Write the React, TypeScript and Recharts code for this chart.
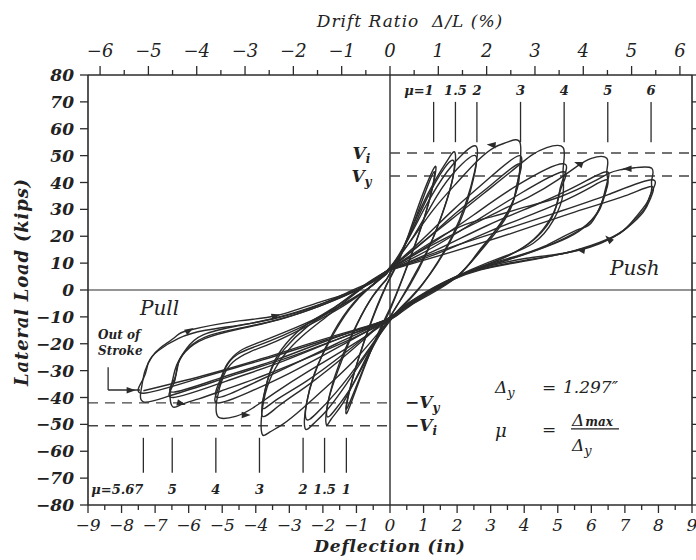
import React from "react";
import { LineChart, Line, XAxis, YAxis, ReferenceLine, ReferenceDot } from "recharts";

type Pt = [number, number];

// axis ticks (deflection in inches, drift ratio in %, load in kips)
const deflTicks = [-9, -8.5, -8, -7.5, -7, -6.5, -6, -5.5, -5, -4.5, -4, -3.5, -3, -2.5, -2, -1.5, -1, -0.5, 0,
  0.5, 1, 1.5, 2, 2.5, 3, 3.5, 4, 4.5, 5, 5.5, 6, 6.5, 7, 7.5, 8, 8.5, 9];
const driftTicks = [-6, -5.5, -5, -4.5, -4, -3.5, -3, -2.5, -2, -1.5, -1, -0.5, 0, 0.5, 1, 1.5, 2, 2.5, 3, 3.5, 4,
  4.5, 5, 5.5, 6];
const driftRange = [-6.25, 6.25];
const loadTicks = [-80, -70, -60, -50, -40, -30, -20, -10, 0, 10, 20, 30, 40, 50, 60, 70, 80];

// ductility markers (deflection at mu * 1.297")
const pushMarkX = [1.3, 1.95, 2.59, 3.89, 5.19, 6.49, 7.78];
const pushMarkLabels = ["μ=1", "1.5", "2", "3", "4", "5", "6"];
const pullMarkX = [-1.3, -1.95, -2.59, -3.89, -5.19, -6.49, -7.35];
const pullMarkLabels = ["1", "1.5", "2", "3", "4", "5", "μ=5.67"];

// Vi / Vy levels (kips)
const viPush = 51;
const vyPush = 42.4;
const vyPull = -42;
const viPull = -50.5;

// hysteresis cycles: [deflection in, load kips]
const mu1a: Pt[] = [[-0.1, 2], [0.3, 12], [0.7, 26], [1.05, 38], [1.35, 46], [1.3, 40], [1.05, 28], [0.6, 12], [0.1, -4],
  [-0.35, -16], [-0.8, -30], [-1.1, -40], [-1.3, -46], [-1.25, -40], [-0.95, -26], [-0.5, -10], [-0.1, 2]];
const mu1b: Pt[] = [[-0.1, 2], [0.35, 14], [0.8, 28], [1.1, 38], [1.32, 44], [1.26, 38], [1.0, 26], [0.55, 10], [0.05, -6],
  [-0.4, -18], [-0.85, -31], [-1.28, -44], [-1.22, -38], [-0.9, -24], [-0.45, -8], [-0.1, 2]];
const mu15a: Pt[] = [[-0.1, 4], [0.4, 16], [0.9, 30], [1.4, 42], [1.75, 49], [1.94, 51], [1.88, 42], [1.6, 30], [1.2, 17],
  [0.7, 5], [0.2, -6], [-0.4, -18], [-0.9, -30], [-1.4, -42], [-1.75, -48], [-1.9, -50], [-1.85, -42], [-1.55, -30],
  [-1.1, -16], [-0.6, -4], [-0.1, 4]];
const mu15b: Pt[] = [[-0.1, 4], [0.5, 18], [1.1, 34], [1.6, 45], [1.9, 48], [1.84, 40], [1.55, 28], [1.1, 14], [0.6, 2],
  [0.1, -8], [-0.5, -21], [-1.1, -35], [-1.6, -44], [-1.88, -47], [-1.8, -39], [-1.5, -27], [-1.0, -13], [-0.5, -2], [-0.1, 4]];
const mu2a: Pt[] = [[-0.1, 6], [0.5, 18], [1.1, 32], [1.7, 44], [2.2, 51], [2.58, 53.3], [2.52, 44], [2.25, 32], [1.85, 20],
  [1.3, 8], [0.7, -2], [0.1, -10], [-0.6, -22], [-1.3, -35], [-1.9, -45], [-2.3, -50], [-2.53, -51.5], [-2.5, -43],
  [-2.25, -31], [-1.8, -19], [-1.2, -7], [-0.6, 1], [-0.1, 6]];
const mu2b: Pt[] = [[-0.1, 6], [0.7, 20], [1.4, 35], [2.0, 45], [2.55, 50], [2.48, 41], [2.2, 29], [1.75, 17], [1.2, 6],
  [0.6, -3], [0, -11], [-0.8, -25], [-1.6, -38], [-2.2, -46], [-2.5, -48], [-2.45, -40], [-2.15, -28], [-1.7, -16],
  [-1.1, -5], [-0.5, 2], [-0.1, 6]];
const mu3a: Pt[] = [[-0.1, 7], [0.6, 18], [1.3, 30], [2.0, 40], [2.6, 48], [3.1, 53], [3.5, 55], [3.87, 55], [3.87, 46],
  [3.8, 38], [3.37, 26], [2.68, 15], [2.09, 6], [1.3, 0], [0.5, -6], [0, -11], [-0.9, -24], [-1.8, -35], [-2.6, -44],
  [-3.2, -50], [-3.6, -53], [-3.82, -53.3], [-3.8, -44], [-3.6, -34], [-3.2, -25], [-2.6, -17], [-1.8, -9], [-0.9, 0], [-0.1, 7]];
const mu3b: Pt[] = [[-0.1, 7], [0.9, 18], [1.9, 30], [2.9, 41], [3.85, 50], [3.83, 42], [3.7, 34], [3.3, 25], [2.65, 14],
  [2.0, 5], [1.2, -1], [0.4, -7], [-0.1, -11], [-1.2, -23], [-2.4, -35], [-3.3, -43], [-3.8, -47], [-3.75, -39],
  [-3.55, -30], [-3.15, -22], [-2.5, -14], [-1.7, -7], [-0.8, 1], [-0.1, 7]];
const mu3c: Pt[] = [[-0.1, 7], [1.0, 18], [2.0, 29], [3.0, 39], [3.85, 47], [3.8, 40], [3.65, 32], [3.25, 23], [2.6, 13],
  [1.95, 4.5], [1.2, -1.5], [0.4, -7], [-0.1, -11], [-1.3, -23], [-2.5, -34], [-3.4, -41], [-3.8, -44], [-3.72, -37],
  [-3.5, -28], [-3.1, -20], [-2.45, -12.5], [-1.6, -6], [-0.8, 1.5], [-0.1, 7]];
const mu4a: Pt[] = [[-0.1, 7], [0.8, 16], [1.8, 26], [2.8, 36], [3.6, 44], [4.2, 50], [4.67, 53], [5.16, 53], [5.16, 45],
  [5.16, 36], [4.87, 26], [4.27, 17.4], [3.38, 12.4], [2.4, 7.5], [1.5, 2], [0.6, -5], [0, -11], [-1.2, -21], [-2.4, -30],
  [-3.4, -38], [-4.1, -44], [-4.6, -47], [-5.07, -47.6], [-5.18, -45], [-5.16, -40.9], [-4.97, -32.3], [-4.67, -26.7],
  [-4.17, -23], [-3.38, -19], [-2.4, -13], [-1.4, -6], [-0.6, 1], [-0.1, 7]];
const mu4b: Pt[] = [[-0.1, 7], [1.2, 17], [2.5, 28], [3.8, 39], [5.15, 47], [5.12, 40], [5.0, 33], [4.7, 25], [4.1, 17],
  [3.2, 11], [2.2, 6], [1.3, 0], [0.5, -6], [-0.1, -11], [-1.5, -21], [-3.0, -31], [-4.2, -38], [-5.15, -42], [-5.1, -36],
  [-4.9, -29], [-4.55, -24], [-4.0, -21], [-3.2, -17], [-2.2, -11], [-1.2, -4], [-0.5, 2], [-0.1, 7]];
const mu4c: Pt[] = [[-0.1, 7], [1.3, 16], [2.6, 26], [3.9, 36], [5.15, 44], [5.1, 38], [4.95, 31], [4.65, 23.5], [4.0, 16],
  [3.1, 10.5], [2.1, 5.5], [1.2, -0.5], [0.4, -6.5], [-0.1, -11], [-1.6, -20], [-3.1, -29], [-4.3, -36], [-5.15, -40],
  [-5.08, -34], [-4.85, -27.5], [-4.45, -22.5], [-3.9, -19.5], [-3.1, -15.5], [-2.1, -10], [-1.1, -3], [-0.4, 3], [-0.1, 7]];
const mu5a: Pt[] = [[-0.1, 7], [1.0, 15], [2.09, 22], [3.2, 29], [4.2, 35], [5.0, 41], [5.57, 46], [6.0, 49], [6.46, 49],
  [6.46, 44], [6.46, 38.4], [6.06, 26], [5.56, 22.3], [4.57, 16.1], [3.6, 12], [2.6, 8], [1.6, 2], [0.7, -5], [0, -11],
  [-1.3, -19], [-2.6, -26], [-3.8, -32], [-4.9, -37], [-5.7, -40.5], [-6.2, -42.5], [-6.48, -43.4], [-6.55, -38],
  [-6.47, -33], [-6.36, -28], [-6.06, -21.7], [-5.57, -16.7], [-4.6, -13.5], [-3.4, -10.5], [-2.2, -6], [-1.1, 0],
  [-0.4, 4], [-0.1, 7]];
const mu5b: Pt[] = [[-0.1, 7], [1.4, 15], [2.9, 24], [4.4, 32], [5.6, 39], [6.45, 44], [6.45, 39], [6.3, 32], [6.0, 26],
  [5.4, 20.5], [4.4, 15], [3.3, 10.5], [2.2, 6], [1.3, 0], [0.5, -6], [-0.1, -11], [-1.7, -19], [-3.3, -27], [-4.9, -34],
  [-6.45, -40], [-6.45, -35], [-6.35, -29], [-6.1, -23], [-5.5, -18], [-4.5, -14.5], [-3.3, -11], [-2.1, -6], [-1.0, 0],
  [-0.1, 7]];
const mu5c: Pt[] = [[-0.1, 7], [1.5, 14], [3.0, 22], [4.6, 30], [5.8, 37], [6.45, 41], [6.43, 36.5], [6.25, 30], [5.9, 24.5],
  [5.3, 19.5], [4.3, 14.5], [3.2, 10], [2.1, 5.5], [1.2, -0.5], [0.4, -6.5], [-0.1, -11], [-1.8, -18.5], [-3.4, -26],
  [-5.0, -32.5], [-6.45, -38], [-6.42, -33], [-6.3, -27], [-6.0, -21.5], [-5.4, -17], [-4.4, -14], [-3.2, -10.5],
  [-2.0, -5.5], [-0.9, 0.5], [-0.1, 7]];
const mu6a: Pt[] = [[-0.1, 7], [1.0, 16], [2.09, 23.6], [3.1, 27.5], [4.07, 31], [5.07, 34.7], [6.06, 40.3], [6.5, 43.3],
  [6.85, 44.7], [7.3, 45.5], [7.8, 45.3], [7.8, 41], [7.8, 37.8], [7.65, 32.3], [7.25, 26], [6.85, 21.1], [5.66, 14.9],
  [4.07, 11.8], [3.0, 9], [2.09, 5.6], [1.2, 0], [0.5, -6], [0, -11], [-1.5, -18], [-3, -25], [-4.5, -31], [-5.7, -36],
  [-6.6, -39.5], [-7.35, -41.6], [-7.4, -36], [-7.3, -30], [-7.1, -25], [-6.85, -21.6], [-6.4, -17.5], [-5.96, -14.9],
  [-4.5, -11.5], [-3.38, -9.5], [-2.09, -4.5], [-1.2, -1], [-0.5, 3], [-0.1, 7]];
const mu6b: Pt[] = [[-0.1, 7], [1.6, 15], [3.3, 22], [5.0, 29], [6.5, 35.5], [7.8, 41], [7.78, 36], [7.6, 30.5], [7.2, 25],
  [6.7, 20], [5.5, 14.5], [4.0, 11], [2.8, 8], [1.9, 4.5], [1.1, -0.5], [0.4, -6.5], [-0.1, -11], [-1.9, -18.5],
  [-3.8, -26], [-5.6, -32.5], [-7.35, -38.4], [-7.35, -33], [-7.2, -27], [-6.9, -22.5], [-6.3, -18], [-5.5, -15],
  [-4.2, -12.5], [-3.0, -9], [-1.9, -4.5], [-0.9, 0.5], [-0.1, 7]];
const mu6c: Pt[] = [[-0.1, 7], [1.8, 14], [3.6, 21], [5.5, 29], [7.0, 35], [7.8, 38.5], [7.76, 34], [7.55, 29], [7.1, 23.5],
  [6.5, 19], [5.3, 14], [3.9, 10.5], [2.7, 7.5], [1.8, 3.5], [1.0, -1.5], [0.3, -7], [-0.1, -11], [-1.9, -18],
  [-3.8, -25.5], [-5.6, -32], [-7.35, -37.5]];

const cycles: Pt[][] = [mu1a, mu1b, mu15a, mu15b, mu2a, mu2b, mu3a, mu3b, mu3c, mu4a, mu4b, mu4c, mu5a, mu5b, mu5c,
  mu6a, mu6b, mu6c];

// direction arrows on the curves: [x, y, angle in degrees on screen]
const arrows: [number, number, number][] = [
  [7.05, 45.1, 180], [5.6, 47.1, 200], [3.0, 54, 185], [5.66, 14.9, 190], [6.5, 19.2, 225],
  [-4.27, -46.5, 0], [-5.96, -14.9, 330], [-3.38, -9.5, 345], [-7.7, -37.3, 0], [-6.2, -42.3, 15],
];

const ink = "#2b2b2b";
const serif = "'DejaVu Serif', serif";

const BottomTick = (p: any) => {
  const v = p.payload.value as number;
  const major = Number.isInteger(v);
  return (
    <g>
      <line x1={p.x} x2={p.x} y1={p.y} y2={p.y + (major ? 8 : 5)} stroke={ink} strokeWidth={1.3} />
      {major && (
        <text x={p.x} y={p.y + 26} textAnchor="middle" fontFamily={serif} fontStyle="italic" fontSize={17} fill="#222">
          {v < 0 ? "\u2212" + Math.abs(v) : String(v)}
        </text>
      )}
    </g>
  );
};

const TopTick = (p: any) => {
  const v = p.payload.value as number;
  const major = Number.isInteger(v);
  return (
    <g>
      <line x1={p.x} x2={p.x} y1={p.y} y2={p.y - (major ? 9 : 5)} stroke={ink} strokeWidth={1.3} />
      {major && (
        <text x={p.x} y={p.y - 18} textAnchor="middle" fontFamily={serif} fontStyle="italic" fontSize={18} fill="#222">
          {v < 0 ? "\u2212" + Math.abs(v) : String(v)}
        </text>
      )}
    </g>
  );
};

const LeftTick = (p: any) => {
  const v = p.payload.value as number;
  return (
    <g>
      <line x1={p.x} x2={p.x - 8} y1={p.y} y2={p.y} stroke={ink} strokeWidth={1.3} />
      <text x={p.x - 14} y={p.y + 6} textAnchor="end" fontFamily={serif} fontStyle="italic" fontWeight="bold"
        fontSize={17} fill="#222">
        {v < 0 ? "\u2212" + Math.abs(v) : String(v)}
      </text>
    </g>
  );
};

const RightTick = (p: any) => (
  <line x1={p.x} x2={p.x + 5} y1={p.y} y2={p.y} stroke={ink} strokeWidth={1.3} />
);

const textAt = (content: React.ReactNode, anchor: "start" | "middle" | "end", size: number, dy = 0, bold = true) =>
  (p: any) => (
    <text x={p.cx} y={p.cy + dy} textAnchor={anchor} fontFamily={serif} fontStyle="italic"
      fontWeight={bold ? "bold" : "normal"} fontSize={size} fill="#222">
      {content}
    </text>
  );

const arrowShape = (angle: number) => (p: any) => (
  <polygon points="-5,-3.2 4,0 -5,3.2" fill={ink} transform={`translate(${p.cx},${p.cy}) rotate(${angle})`} />
);

const Formula = (p: any) => {
  const x = p.cx;
  const y = p.cy;
  const t = { fontFamily: serif, fontStyle: "italic" as const, fill: "#222" };
  return (
    <g>
      <text x={x} y={y} fontSize={17} {...t}>Δ<tspan fontSize={13} dy={4}>y</tspan></text>
      <text x={x + 47} y={y} fontSize={17} {...t}>=</text>
      <text x={x + 68} y={y} fontSize={17} {...t}>1.297″</text>
      <text x={x} y={y + 44} fontSize={18} {...t}>μ</text>
      <text x={x + 47} y={y + 42} fontSize={17} {...t}>=</text>
      <text x={x + 77} y={y + 33} fontSize={17} {...t}>Δ<tspan fontSize={12} dx={1} fontWeight="bold">max</tspan></text>
      <line x1={x + 76} x2={x + 124} y1={y + 36} y2={y + 36} stroke="#222" strokeWidth={1.2} />
      <text x={x + 77} y={y + 58} fontSize={17} {...t}>Δ<tspan fontSize={13} dy={4}>y</tspan></text>
    </g>
  );
};

export default function App() {
  return (
    <div style={{ position: "absolute", left: 0, top: 0, width: 696, height: 560, background: "#fff" }}>
      <LineChart width={696} height={560} margin={{ top: 0, right: 0, bottom: 0, left: 0 }}>
        <XAxis xAxisId="b" dataKey="x" type="number" orientation="bottom" domain={[-9, 9]} ticks={deflTicks}
          interval={0} height={55} tickSize={0} tickMargin={0} tick={BottomTick} allowDataOverflow
          axisLine={{ stroke: ink, strokeWidth: 1.6 }} />
        <XAxis xAxisId="t" dataKey="x" type="number" orientation="top" domain={driftRange} ticks={driftTicks}
          interval={0} height={75} tickSize={0} tickMargin={0} tick={TopTick} allowDataOverflow
          axisLine={{ stroke: ink, strokeWidth: 1.6 }} />
        <YAxis yAxisId="l" type="number" domain={[-80, 80]} ticks={loadTicks} interval={0} width={88}
          tickSize={0} tickMargin={0} tick={LeftTick} allowDataOverflow axisLine={{ stroke: ink, strokeWidth: 1.6 }} />
        <YAxis yAxisId="r" orientation="right" type="number" domain={[-80, 80]} ticks={loadTicks} interval={0}
          width={4} tickSize={0} tickMargin={0} tick={RightTick} allowDataOverflow
          axisLine={{ stroke: ink, strokeWidth: 1.6 }} />

        {/* invisible carrier so the drift-ratio axis is drawn */}
        <Line xAxisId="t" yAxisId="r" data={driftRange.map((x) => ({ x, y: 0 }))} dataKey="y" stroke="none"
          dot={false} isAnimationActive={false} />

        <ReferenceLine xAxisId="b" yAxisId="l" x={0} stroke={ink} strokeWidth={1.4} />
        <ReferenceLine xAxisId="b" yAxisId="l" y={0} stroke={ink} strokeWidth={1.2} />

        <ReferenceLine xAxisId="b" yAxisId="l" segment={[{ x: 0, y: viPush }, { x: 9, y: viPush }]}
          stroke="#444" strokeWidth={1.4} strokeDasharray="10 7" />
        <ReferenceLine xAxisId="b" yAxisId="l" segment={[{ x: 0, y: vyPush }, { x: 9, y: vyPush }]}
          stroke="#444" strokeWidth={1.4} strokeDasharray="10 7" />
        <ReferenceLine xAxisId="b" yAxisId="l" segment={[{ x: -9, y: vyPull }, { x: 0, y: vyPull }]}
          stroke="#444" strokeWidth={1.4} strokeDasharray="10 7" />
        <ReferenceLine xAxisId="b" yAxisId="l" segment={[{ x: -9, y: viPull }, { x: 0, y: viPull }]}
          stroke="#444" strokeWidth={1.4} strokeDasharray="10 7" />

        {pushMarkX.map((x, i) => (
          <ReferenceLine key={"pm" + i} xAxisId="b" yAxisId="l" segment={[{ x, y: 55 }, { x, y: 70 }]}
            stroke={ink} strokeWidth={1.3} />
        ))}
        {pullMarkX.map((x, i) => (
          <ReferenceLine key={"nm" + i} xAxisId="b" yAxisId="l" segment={[{ x, y: -55 }, { x, y: -68 }]}
            stroke={ink} strokeWidth={1.3} />
        ))}
        {pushMarkX.map((x, i) => (
          <ReferenceDot key={"pl" + i} xAxisId="b" yAxisId="l" x={x} y={72.5} ifOverflow="visible"
            shape={i === 0 ? textAt(pushMarkLabels[i], "end", 13, 0) : textAt(pushMarkLabels[i], "middle", 13, 0)} />
        ))}
        {pullMarkX.map((x, i) => (
          <ReferenceDot key={"nl" + i} xAxisId="b" yAxisId="l" x={x} y={-76} ifOverflow="visible"
            shape={i === pullMarkX.length - 1 ? textAt(pullMarkLabels[i], "end", 13, 0)
              : textAt(pullMarkLabels[i], "middle", 13, 0)} />
        ))}

        {cycles.map((c, i) => (
          <Line key={"c" + i} xAxisId="b" yAxisId="l" data={c.map(([x, y]) => ({ x, y }))} dataKey="y"
            type="natural" stroke={ink} strokeWidth={1.4} dot={false} isAnimationActive={false} />
        ))}

        {arrows.map(([x, y, a], i) => (
          <ReferenceDot key={"ar" + i} xAxisId="b" yAxisId="l" x={x} y={y} shape={arrowShape(a)} />
        ))}

        {/* out of stroke pointer */}
        <ReferenceLine xAxisId="b" yAxisId="l" segment={[{ x: -8.4, y: -28.7 }, { x: -8.4, y: -37.2 }]}
          stroke={ink} strokeWidth={1.3} />
        <ReferenceLine xAxisId="b" yAxisId="l" segment={[{ x: -8.4, y: -37.2 }, { x: -7.45, y: -37.2 }]}
          stroke={ink} strokeWidth={1.3} />

        <ReferenceDot xAxisId="b" yAxisId="l" x={-0.85} y={51} ifOverflow="visible"
          shape={textAt(<>V<tspan fontSize={12} dy={4}>i</tspan></>, "middle", 17, 6)} />
        <ReferenceDot xAxisId="b" yAxisId="l" x={-0.85} y={42.4} ifOverflow="visible"
          shape={textAt(<>V<tspan fontSize={12} dy={4}>y</tspan></>, "middle", 17, 6)} />
        <ReferenceDot xAxisId="b" yAxisId="l" x={0.45} y={-42} ifOverflow="visible"
          shape={textAt(<>{"\u2212"}V<tspan fontSize={12} dy={4}>y</tspan></>, "start", 17, 5)} />
        <ReferenceDot xAxisId="b" yAxisId="l" x={0.45} y={-50.5} ifOverflow="visible"
          shape={textAt(<>{"\u2212"}V<tspan fontSize={12} dy={4}>i</tspan></>, "start", 17, 5)} />
        <ReferenceDot xAxisId="b" yAxisId="l" x={6.56} y={5.6} ifOverflow="visible"
          shape={textAt("Push", "start", 20, 0, false)} />
        <ReferenceDot xAxisId="b" yAxisId="l" x={-7.45} y={-9.3} ifOverflow="visible"
          shape={textAt("Pull", "start", 20, 0, false)} />
        <ReferenceDot xAxisId="b" yAxisId="l" x={-8.7} y={-18.2} ifOverflow="visible"
          shape={textAt("Out of", "start", 12, 0)} />
        <ReferenceDot xAxisId="b" yAxisId="l" x={-8.7} y={-24.2} ifOverflow="visible"
          shape={textAt("Stroke", "start", 12, 0)} />
        <ReferenceDot xAxisId="b" yAxisId="l" x={3.13} y={-38.3} ifOverflow="visible" shape={Formula} />
      </LineChart>
      <svg width={696} height={560} style={{ position: "absolute", left: 0, top: 0, pointerEvents: "none" }}>
        <text x={410} y={27} textAnchor="middle" fontFamily={serif} fontStyle="italic" fontSize={17}
          letterSpacing={1} fill="#222" xmlSpace="preserve">Drift Ratio  Δ/L (%)</text>
        <text x={390} y={552} textAnchor="middle" fontFamily={serif} fontStyle="italic" fontWeight="bold"
          fontSize={17} letterSpacing={0.8} fill="#222">Deflection (in)</text>
        <text x={0} y={0} transform="translate(28,282) rotate(-90)" textAnchor="middle" fontFamily={serif}
          fontStyle="italic" fontWeight="bold" fontSize={18} letterSpacing={0.8} fill="#222">Lateral Load (kips)</text>
      </svg>
    </div>
  );
}
